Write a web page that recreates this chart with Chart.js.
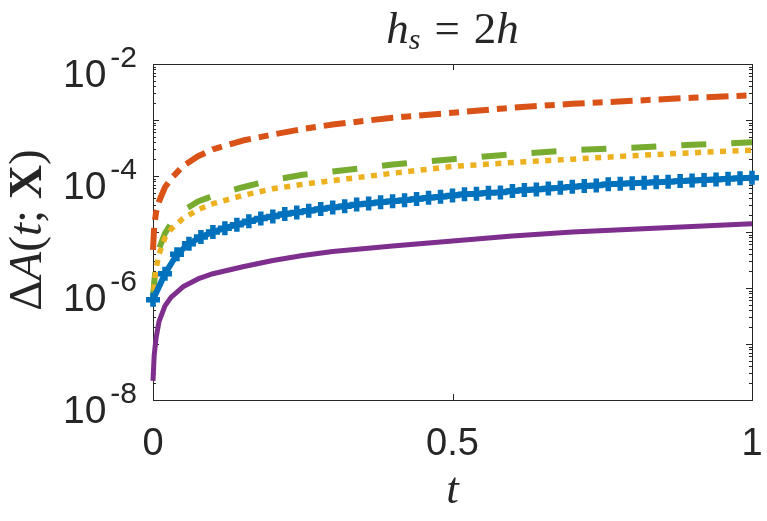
<!DOCTYPE html>
<html>
<head>
<meta charset="utf-8">
<script src="https://cdn.jsdelivr.net/npm/chart.js@4/dist/chart.umd.min.js"></script>
<style>
  html, body { margin: 0; padding: 0; background: #fff; }
  #wrap { width: 767px; height: 521px; }
</style>
</head>
<body>
<div id="wrap"><canvas id="lineChart" width="767" height="521"></canvas></div>
<script>
// time grid shared by the four plain curves
var tGrid = [0, 0.002, 0.005, 0.01, 0.02, 0.03, 0.05, 0.075, 0.1, 0.15, 0.2, 0.25, 0.3, 0.4, 0.5, 0.6, 0.7, 0.8, 0.9, 1.0];

var redVals    = [4.8e-6, 1.26e-5, 2.2e-5, 3.5e-5, 6.3e-5, 8.9e-5, 1.5e-4, 2.25e-4, 3.0e-4, 4.3e-4, 5.5e-4, 6.9e-4, 8.3e-4, 1.1e-3, 1.35e-3, 1.66e-3, 1.95e-3, 2.2e-3, 2.5e-3, 2.75e-3];
var greenVals  = [6.9e-7, 1.26e-6, 2.5e-6, 5.0e-6, 9.5e-6, 1.4e-5, 2.4e-5, 3.5e-5, 4.4e-5, 6.3e-5, 8.5e-5, 1.05e-4, 1.2e-4, 1.6e-4, 2.0e-4, 2.45e-4, 2.9e-4, 3.2e-4, 3.6e-4, 4.0e-4];
var yellowVals = [5.4e-7, 1.12e-6, 2.2e-6, 4.0e-6, 7.9e-6, 1.12e-5, 1.74e-5, 2.5e-5, 3.2e-5, 4.5e-5, 5.9e-5, 7.1e-5, 8.3e-5, 1.12e-4, 1.48e-4, 1.74e-4, 2.0e-4, 2.3e-4, 2.6e-4, 2.9e-4];
var purpleVals = [2.2e-8, 6.3e-8, 1.26e-7, 2.5e-7, 4.8e-7, 6.8e-7, 1.05e-6, 1.45e-6, 1.8e-6, 2.4e-6, 3.1e-6, 3.8e-6, 4.5e-6, 5.6e-6, 6.9e-6, 8.5e-6, 1.0e-5, 1.12e-5, 1.26e-5, 1.4e-5];

// the marked curve (one + per sample)
var tMarks = [0, 0.02, 0.04, 0.06, 0.08, 0.1, 0.12, 0.14, 0.16, 0.18, 0.2, 0.22, 0.24, 0.26, 0.28, 0.3, 0.32, 0.34, 0.36, 0.38, 0.4,
              0.42, 0.44, 0.46, 0.48, 0.5, 0.52, 0.54, 0.56, 0.58, 0.6, 0.62, 0.64, 0.66, 0.68, 0.7, 0.72, 0.74, 0.76, 0.78, 0.8,
              0.82, 0.84, 0.86, 0.88, 0.9, 0.92, 0.94, 0.96, 0.98, 1.0];
var blueVals = [6.2e-7, 1.8e-6, 4.0e-6, 6.2e-6, 8.1e-6, 1.0e-5, 1.17e-5, 1.35e-5, 1.55e-5, 1.74e-5, 1.9e-5, 2.1e-5, 2.24e-5, 2.4e-5, 2.57e-5, 2.75e-5, 2.88e-5, 3.1e-5, 3.24e-5, 3.4e-5, 3.55e-5,
                3.7e-5, 3.9e-5, 4.1e-5, 4.25e-5, 4.5e-5, 4.7e-5, 4.8e-5, 5.0e-5, 5.1e-5, 5.4e-5, 5.6e-5, 5.75e-5, 6.0e-5, 6.2e-5, 6.45e-5, 6.6e-5, 6.75e-5, 7.1e-5, 7.25e-5, 7.4e-5,
                7.6e-5, 7.75e-5, 7.9e-5, 8.1e-5, 8.3e-5, 8.5e-5, 8.7e-5, 8.9e-5, 9.1e-5, 9.3e-5];

// axes
var xTicks = [0, 0.5, 1];
var xTickLabels = ['0', '0.5', '1'];
var yTicks = [1e-8, 1e-6, 1e-4, 1e-2];
var yTickExps = ['-8', '-6', '-4', '-2'];

var SANS = '"Liberation Sans", Arial, sans-serif';
var SERIF = '"Liberation Serif", "Times New Roman", serif';
var AXIS_COLOR = '#262626';

function toPoints(ts, vals) {
    return ts.map(function(t, i) { return { x: t, y: vals[i] }; });
}

// draws a row of text pieces with their own fonts, centred on x
// a piece with only a gap just adds space
function drawRich(ctx, parts, x, y) {
    var total = 0;
    parts.forEach(function(p) {
        if (p.text) {
            ctx.font = p.font;
            p.w = ctx.measureText(p.text).width;
        } else {
            p.w = p.gap;
        }
        total += p.w;
    });
    var cx = x - total / 2;
    ctx.textAlign = 'left';
    ctx.textBaseline = 'alphabetic';
    parts.forEach(function(p) {
        if (p.text) {
            ctx.font = p.font;
            ctx.fillText(p.text, cx, y + (p.dy || 0));
        }
        cx += p.w;
    });
}

var matlabAxes = {
    id: 'matlabAxes',
    beforeDatasetsDraw: function(chart) {
        var ctx = chart.ctx, a = chart.chartArea;
        var xs = chart.scales.x, ys = chart.scales.y;
        ctx.save();
        ctx.strokeStyle = AXIS_COLOR;
        ctx.lineWidth = 1;
        ctx.strokeRect(Math.round(a.left) + 0.5, Math.round(a.top) + 0.5,
                       Math.round(a.right - a.left), Math.round(a.bottom - a.top));
        ctx.beginPath();
        // x ticks, inward, bottom and top
        xTicks.forEach(function(v) {
            var px = Math.round(xs.getPixelForValue(v)) + 0.5;
            ctx.moveTo(px, a.bottom); ctx.lineTo(px, a.bottom - 6);
            ctx.moveTo(px, a.top); ctx.lineTo(px, a.top + 6);
        });
        // y ticks: every decade plus minor ones
        for (var k = -8; k <= -2; k++) {
            for (var m = 1; m <= 9; m++) {
                if (k === -2 && m > 1) break;
                var py = Math.round(ys.getPixelForValue(m * Math.pow(10, k))) + 0.5;
                var len = (m === 1) ? 6 : 3;
                ctx.moveTo(a.left, py); ctx.lineTo(a.left + len, py);
                ctx.moveTo(a.right, py); ctx.lineTo(a.right - len, py);
            }
        }
        ctx.stroke();
        ctx.restore();
    },
    afterDraw: function(chart) {
        var ctx = chart.ctx, a = chart.chartArea;
        var xs = chart.scales.x, ys = chart.scales.y;
        ctx.save();
        ctx.fillStyle = AXIS_COLOR;

        // x tick labels
        ctx.font = '38px ' + SANS;
        ctx.textAlign = 'center';
        ctx.textBaseline = 'alphabetic';
        xTicks.forEach(function(v, i) {
            ctx.fillText(xTickLabels[i], xs.getPixelForValue(v), a.bottom + 55);
        });

        // y tick labels: 10 with a raised exponent, the pair centred on the tick
        yTicks.forEach(function(v, i) {
            var py = ys.getPixelForValue(v);
            ctx.textAlign = 'right';
            ctx.font = '30px ' + SANS;
            var expW = ctx.measureText(yTickExps[i]).width;
            ctx.fillText(yTickExps[i], a.left - 16, py + 3);
            ctx.font = '39px ' + SANS;
            ctx.fillText('10', a.left - 20 - expW, py + 23);
        });

        var midX = (a.left + a.right) / 2;
        var midY = (a.top + a.bottom) / 2;

        // title  h_s = 2h
        drawRich(ctx, [
            { text: 'h', font: 'italic 45px ' + SERIF },
            { text: 's', font: 'italic 30px ' + SERIF, dy: 6 },
            { gap: 14 },
            { text: '=', font: '45px ' + SERIF },
            { gap: 14 },
            { text: '2', font: '45px ' + SERIF },
            { text: 'h', font: 'italic 45px ' + SERIF }
        ], midX, 43);

        // x label
        drawRich(ctx, [{ text: 't', font: 'italic 45px ' + SERIF }], midX, 503);

        // y label  ΔA(t; X)
        ctx.translate(41, midY - 2);
        ctx.rotate(-Math.PI / 2);
        drawRich(ctx, [
            { text: '\u0394', font: '47px ' + SERIF },
            { text: 'A', font: 'italic 47px ' + SERIF },
            { text: '(', font: '47px ' + SERIF },
            { text: 't', font: 'italic 47px ' + SERIF },
            { text: ';', font: '47px ' + SERIF },
            { gap: 11 },
            { text: 'X', font: 'bold 47px ' + SERIF },
            { text: ')', font: '47px ' + SERIF }
        ], 0, 0);
        ctx.restore();
    }
};

var lineDefaults = { fill: false, tension: 0, pointRadius: 0, clip: false, borderJoinStyle: 'round' };

var chartData = {
    datasets: [
        Object.assign({}, lineDefaults, {
            label: 'blue', data: toPoints(tMarks, blueVals),
            borderColor: '#0072BD', borderWidth: 6,
            pointStyle: 'cross', pointRadius: 7, pointBorderWidth: 5.5,
            pointBorderColor: '#0072BD', pointBackgroundColor: '#0072BD'
        }),
        Object.assign({}, lineDefaults, {
            label: 'red', data: toPoints(tGrid, redVals),
            borderColor: '#D95319', borderWidth: 6, borderDash: [22, 8, 10, 8]
        }),
        Object.assign({}, lineDefaults, {
            label: 'yellow', data: toPoints(tGrid, yellowVals),
            borderColor: '#EDB120', borderWidth: 5.5, borderDash: [6, 6.5]
        }),
        Object.assign({}, lineDefaults, {
            label: 'purple', data: toPoints(tGrid, purpleVals),
            borderColor: '#7E2F8E', borderWidth: 5
        }),
        Object.assign({}, lineDefaults, {
            label: 'green', data: toPoints(tGrid, greenVals),
            borderColor: '#77AC30', borderWidth: 6, borderDash: [25, 25]
        })
    ]
};

var chartOptions = {
    responsive: false,
    animation: false,
    events: [],
    layout: { padding: { left: 153, right: 15, top: 64, bottom: 121 } },
    plugins: { legend: { display: false }, tooltip: { enabled: false }, title: { display: false } },
    scales: {
        x: { type: 'linear', min: 0, max: 1, display: false },
        y: { type: 'logarithmic', min: 1e-8, max: 1e-2, display: false }
    }
};

var lineChart = new Chart(document.getElementById('lineChart').getContext('2d'), {
    type: 'line',
    data: chartData,
    options: chartOptions,
    plugins: [matlabAxes]
});
</script>
</body>
</html>
